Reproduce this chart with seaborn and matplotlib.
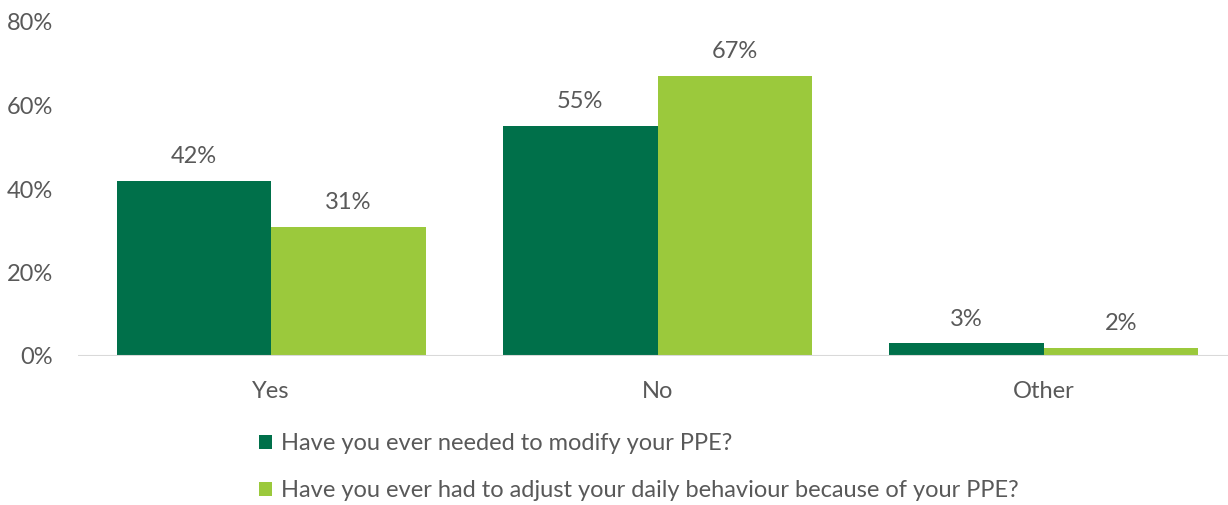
import matplotlib
matplotlib.use("Agg")
import matplotlib.pyplot as plt
import seaborn as sns
import pandas as pd

categories = ["Yes", "No", "Other"]
series_names = [
    "Have you ever needed to modify your PPE?",
    "Have you ever had to adjust your daily behaviour because of your PPE?",
]
modify_ppe = [42, 55, 3]
adjust_behaviour = [31, 67, 2]
y_ticks = [0, 20, 40, 60, 80]

df = pd.DataFrame({
    "answer": categories * 2,
    "question": [series_names[0]] * 3 + [series_names[1]] * 3,
    "pct": modify_ppe + adjust_behaviour,
})

sns.set_theme(style="white")
plt.rcParams["font.family"] = ["Lato", "DejaVu Sans"]
text_grey = "#595959"
fs = 17
palette = {series_names[0]: "#00704A", series_names[1]: "#9BC93C"}

fig = plt.figure(figsize=(12.28, 5.05), dpi=100)
ax = fig.add_axes([78 / 1228, 149 / 505, 1 - 78 / 1228, 334 / 505])

sns.barplot(data=df, x="answer", y="pct", hue="question", order=categories,
            hue_order=series_names, palette=palette, saturation=1, width=0.8,
            gap=0, ax=ax, legend=True, edgecolor="none", linewidth=0)

for container in ax.containers:
    ax.bar_label(container, labels=[f"{v:.0f}%" for v in container.datavalues],
                 padding=10, fontsize=fs, color=text_grey)

ax.set_ylim(0, 80)
ax.set_xlim(-0.5, 2.5 - 9 / 386)
ax.set_yticks(y_ticks)
ax.set_yticklabels([f"{t}%" for t in y_ticks])
ax.axhline(0, color="#D9D9D9", lw=1.5, zorder=3)
sns.despine(ax=ax, left=True, bottom=True)
ax.tick_params(axis="y", length=0, pad=18, labelsize=fs, labelcolor=text_grey)
ax.tick_params(axis="x", length=0, pad=18, labelsize=fs, labelcolor=text_grey)
ax.set_xlabel("")
ax.set_ylabel("")

handles, labels = ax.get_legend_handles_labels()
ax.get_legend().remove()
fig.legend(handles, labels, loc="upper left", bbox_to_anchor=(259 / 1228, 1 - 433 / 505),
           ncol=1, frameon=False, fontsize=fs, handlelength=0.55, handleheight=0.55,
           handletextpad=0.4, labelspacing=1.12, labelcolor=text_grey, borderpad=0,
           borderaxespad=0)

fig.savefig("out.png", dpi=100)
